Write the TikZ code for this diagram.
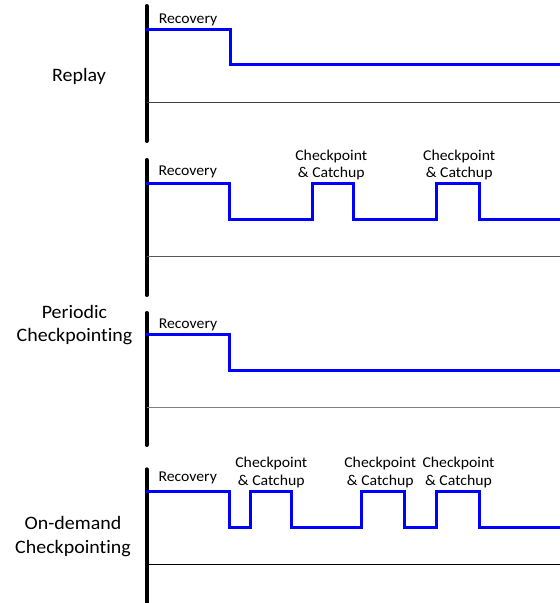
\documentclass[tikz,border=0pt]{standalone}
\usepackage{fontspec}
\setmainfont{Carlito}[FakeStretch=1.05,Ligatures=NoCommon]
\begin{document}
\begin{tikzpicture}[x=1pt,y=-1pt,
  axisbar/.style={line width=4pt,line cap=round,black},
  baseline/.style={line width=1pt},
  signal/.style={line width=3pt,blue,line join=miter},
  small/.style={font=\fontsize{15}{17.3}\selectfont,inner sep=0pt,anchor=base,align=center},
  big/.style={font=\fontsize{19}{23.4}\selectfont,inner sep=0pt,anchor=base,align=center}]
\useasboundingbox (0,0) rectangle (560,603);

% multi-line labels are placed by the baseline of their last line

% ---------- Replay ----------
\node[big] (replay) at (79,81.5) {Replay};
\draw[axisbar] (146.5,6) -- (146.5,141);
\draw[baseline,black!75] (146.5,102) -- (560,102);
\draw[signal] (146,29) -- (230,29) -- (230,64) -- (560,64);
\node[small] (rec1) at (188,23.3) {Recovery};

% ---------- Periodic checkpointing, first timeline ----------
\draw[axisbar] (146.5,160) -- (146.5,295);
\draw[baseline,black!65] (146.5,256.7) -- (560,256.7);
\draw[signal] (146,183.3) -- (229.5,183.3) -- (229.5,219)
  -- (312.5,219) -- (312.5,183.3) -- (353.5,183.3) -- (353.5,219)
  -- (436.5,219) -- (436.5,183.3) -- (479,183.3) -- (479,219) -- (560,219);
\node[small] (rec2) at (187.7,175.5) {Recovery};
\node[small] (cp2a) at (331.3,177.3) {Checkpoint\\\& Catchup};
\node[small] (cp2b) at (459.2,177.3) {Checkpoint\\\& Catchup};

% ---------- Periodic checkpointing, second timeline ----------
\node[big] (periodic) at (74.5,341.7) {Periodic\\Checkpointing};
\draw[axisbar] (146.5,313) -- (146.5,445);
\draw[baseline,black!50] (146.5,407.7) -- (560,407.7);
\draw[signal] (146,334.3) -- (229.5,334.3) -- (229.5,370) -- (560,370);
\node[small] (rec3) at (188,328) {Recovery};

% ---------- On-demand checkpointing ----------
\node[big] (ondemand) at (73,553) {On-demand\\Checkpointing};
\draw[axisbar] (146.5,469.3) -- (146.5,610);
\draw[baseline,black] (146.5,564.3) -- (560,564.3);
\draw[signal] (146,491) -- (229.5,491) -- (229.5,527.3)
  -- (250,527.3) -- (250,491) -- (291.7,491) -- (291.7,527.3)
  -- (361.7,527.3) -- (361.7,491) -- (404,491) -- (404,527.3)
  -- (436.7,527.3) -- (436.7,491) -- (479,491) -- (479,527.3) -- (560,527.3);
\node[small] (rec4) at (187.7,481.7) {Recovery};
\node[small] (cp4a) at (271.3,485) {Checkpoint\\\& Catchup};
\node[small] (cp4b) at (380.3,485) {Checkpoint\\\& Catchup};
\node[small] (cp4c) at (458.5,485) {Checkpoint\\\& Catchup};
\end{tikzpicture}
\end{document}
